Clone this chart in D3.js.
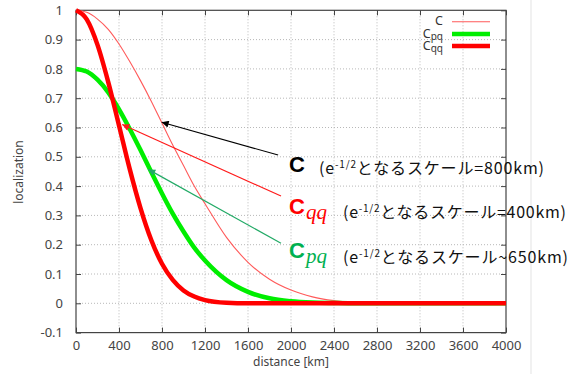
<!DOCTYPE html>
<html>
<head>
<meta charset="utf-8">
<script src="https://cdn.jsdelivr.net/npm/d3@7"></script>
<style>
  html, body { margin: 0; padding: 0; background: #fff; }
  svg { display: block; }
</style>
</head>
<body>
<svg id="chart" width="578" height="374"></svg>
<script>
// Sample distances (km) and localization values of the three correlation functions
const distanceKm = [0, 100, 200, 300, 400, 500, 600, 700, 800, 900, 1000, 1100, 1200,
                    1400, 1600, 1800, 2000, 2200, 2400, 2600, 2800, 3200, 3600, 4000];
const valuesC   = [1.0, 0.993, 0.97, 0.935, 0.885, 0.825, 0.76, 0.69, 0.615, 0.54, 0.47, 0.40, 0.34,
                   0.225, 0.14, 0.082, 0.045, 0.022, 0.009, 0.002, 0, 0, 0, 0];
const valuesCpq = [0.8, 0.791, 0.763, 0.72, 0.662, 0.595, 0.523, 0.448, 0.375, 0.306, 0.245, 0.19, 0.146,
                   0.079, 0.039, 0.017, 0.007, 0.0026, 0.001, 0, 0, 0, 0, 0];
const valuesCqq = [1.0, 0.969, 0.882, 0.755, 0.607, 0.458, 0.325, 0.216, 0.135, 0.080, 0.044, 0.023, 0.011,
                   0.002, 0, 0, 0, 0, 0, 0, 0, 0, 0, 0];

const xTicks = [0, 400, 800, 1200, 1600, 2000, 2400, 2800, 3200, 3600, 4000];
const yTicks = [-0.1, 0, 0.1, 0.2, 0.3, 0.4, 0.5, 0.6, 0.7, 0.8, 0.9, 1];

// Annotations: label, subscript, scale note, arrow from (km, value) to (km, value)
const noteLabels = ["C", "C", "C"];
const noteSubs = ["", "qq", "pq"];
const noteScales = ["=800km)", "=400km)", "~650km)"];
const noteArrowFrom = [[1880, 0.506], [1907, 0.366], [1907, 0.205]];
const noteArrowTo = [[797, 0.618], [430, 0.61], [672, 0.457]];

const svg = d3.select("#chart");
const W = 578, H = 374;
const plotL = 76, plotR = 506, plotT = 10.3, plotB = 332.6;

const x = d3.scaleLinear().domain([0, 4000]).range([plotL, plotR]);
const y = d3.scaleLinear().domain([-0.1, 1]).range([plotB, plotT]);

// faint page edge on the right
svg.append("line").attr("x1", 531).attr("x2", 531).attr("y1", 0).attr("y2", H)
  .attr("stroke", "#ececec").attr("stroke-width", 1.5);

// dotted grid
const grid = svg.append("g").attr("stroke", "#b8b8b8").attr("stroke-width", 1).attr("stroke-dasharray", "1,2");
xTicks.slice(1, -1).forEach(t => grid.append("line")
  .attr("x1", x(t)).attr("x2", x(t)).attr("y1", plotT).attr("y2", plotB));
yTicks.slice(1, -1).forEach(t => grid.append("line")
  .attr("x1", plotL).attr("x2", plotR).attr("y1", y(t)).attr("y2", y(t)));

// axes with inward ticks on all four sides
const fmtY = d => (Math.abs(d) < 1e-9 ? "0" : String(+d.toFixed(1)));
const axisFont = "'Noto Sans', 'Liberation Sans', sans-serif";

const gx = svg.append("g").attr("transform", `translate(0,${plotB})`)
  .call(d3.axisBottom(x).tickValues(xTicks).tickSize(-5).tickPadding(8).tickFormat(d3.format("d")));
const gxTop = svg.append("g").attr("transform", `translate(0,${plotT})`)
  .call(d3.axisTop(x).tickValues(xTicks).tickSize(-5).tickFormat(""));
const gy = svg.append("g").attr("transform", `translate(${plotL},0)`)
  .call(d3.axisLeft(y).tickValues(yTicks).tickSize(-5).tickPadding(13).tickFormat(fmtY));
const gyRight = svg.append("g").attr("transform", `translate(${plotR},0)`)
  .call(d3.axisRight(y).tickValues(yTicks).tickSize(-5).tickFormat(""));

[gx, gxTop, gy, gyRight].forEach(g => {
  g.select(".domain").remove();
  g.selectAll(".tick line").attr("stroke", "#444");
  g.selectAll(".tick text").attr("fill", "#444").style("font-family", axisFont).style("font-size", "13px");
});

// frame
svg.append("rect").attr("x", plotL).attr("y", plotT).attr("width", plotR - plotL).attr("height", plotB - plotT)
  .attr("fill", "none").attr("stroke", "#444").attr("stroke-width", 1.2);

// axis titles
svg.append("text").attr("x", (plotL + plotR) / 2).attr("y", 366).attr("text-anchor", "middle")
  .attr("fill", "#444").style("font-family", axisFont).style("font-size", "12px").text("distance [km]");
svg.append("text").attr("transform", "translate(23,172) rotate(-90)").attr("text-anchor", "middle")
  .attr("fill", "#444").style("font-family", axisFont).style("font-size", "12px").text("localization");

// curves
const series = [
  { name: "C", sub: "", values: valuesC, color: "#ff5a5a", width: 1.1 },
  { name: "C", sub: "pq", values: valuesCpq, color: "#00ee00", width: 4.5 },
  { name: "C", sub: "qq", values: valuesCqq, color: "#ff0000", width: 4.5 }
];
const line = d3.line().x(d => x(d[0])).y(d => y(d[1])).curve(d3.curveMonotoneX);
series.forEach(s => {
  svg.append("path").datum(distanceKm.map((d, i) => [d, s.values[i]]))
    .attr("d", line).attr("fill", "none").attr("stroke", s.color)
    .attr("stroke-width", s.width).attr("stroke-linejoin", "round");
});

// legend
const legY = [21.7, 34, 46];
series.forEach((s, i) => {
  const t = svg.append("text").attr("x", 443).attr("y", legY[i] + 3.5).attr("text-anchor", "end")
    .attr("fill", "#333").style("font-family", axisFont).style("font-size", "12.5px");
  t.append("tspan").text(s.name);
  if (s.sub) t.append("tspan").attr("dy", 2.5).style("font-size", "10px").text(s.sub);
  svg.append("line").attr("x1", 452).attr("x2", 490).attr("y1", legY[i]).attr("y2", legY[i])
    .attr("stroke", s.color).attr("stroke-width", s.width);
});

// annotation arrows
const noteColors = ["#000000", "#ff1a1a", "#22aa66"];
const noteTextColors = ["#000000", "#ff0000", "#00b050"];
const defs = svg.append("defs");
noteColors.forEach((c, i) => {
  defs.append("marker").attr("id", "arrow" + i).attr("viewBox", "0 0 10 10")
    .attr("refX", 10).attr("refY", 5).attr("markerWidth", 9).attr("markerHeight", 7)
    .attr("markerUnits", "userSpaceOnUse").attr("orient", "auto")
    .append("path").attr("d", "M0,0L10,5L0,10Z").attr("fill", c);
});
noteArrowFrom.forEach((f, i) => {
  svg.append("line")
    .attr("x1", x(f[0])).attr("y1", y(f[1]))
    .attr("x2", x(noteArrowTo[i][0])).attr("y2", y(noteArrowTo[i][1]))
    .attr("stroke", noteColors[i]).attr("stroke-width", 1.2)
    .attr("marker-end", `url(#arrow${i})`);
});

// annotation labels
const labelPos = [[289, 172], [289, 214], [289, 257.5]];
const notePos = [[319, 174, 225], [343, 218, 223], [343, 263, 225]];
const jpFont = "'Noto Sans CJK JP', 'Noto Sans', sans-serif";
noteLabels.forEach((lab, i) => {
  const t = svg.append("text").attr("x", labelPos[i][0]).attr("y", labelPos[i][1])
    .attr("fill", noteTextColors[i]);
  t.append("tspan").style("font-family", "'Liberation Sans', Arial, sans-serif")
    .style("font-weight", "bold").style("font-size", "22px").text(lab);
  if (noteSubs[i]) {
    t.append("tspan").attr("dx", 1).attr("dy", 5)
      .style("font-family", "'Liberation Serif', 'DejaVu Serif', serif")
      .style("font-style", "italic").style("font-size", "21px").text(noteSubs[i]);
  }
  const n = svg.append("text").attr("x", notePos[i][0]).attr("y", notePos[i][1])
    .attr("fill", "#111").style("font-family", jpFont).style("font-size", "16px")
    .attr("textLength", notePos[i][2]).attr("lengthAdjust", "spacing");
  n.append("tspan").text("(e");
  n.append("tspan").attr("dy", -6).style("font-size", "10px").text("-1/2");
  n.append("tspan").attr("dy", 6).text("となるスケール" + noteScales[i]);
});
</script>
</body>
</html>
